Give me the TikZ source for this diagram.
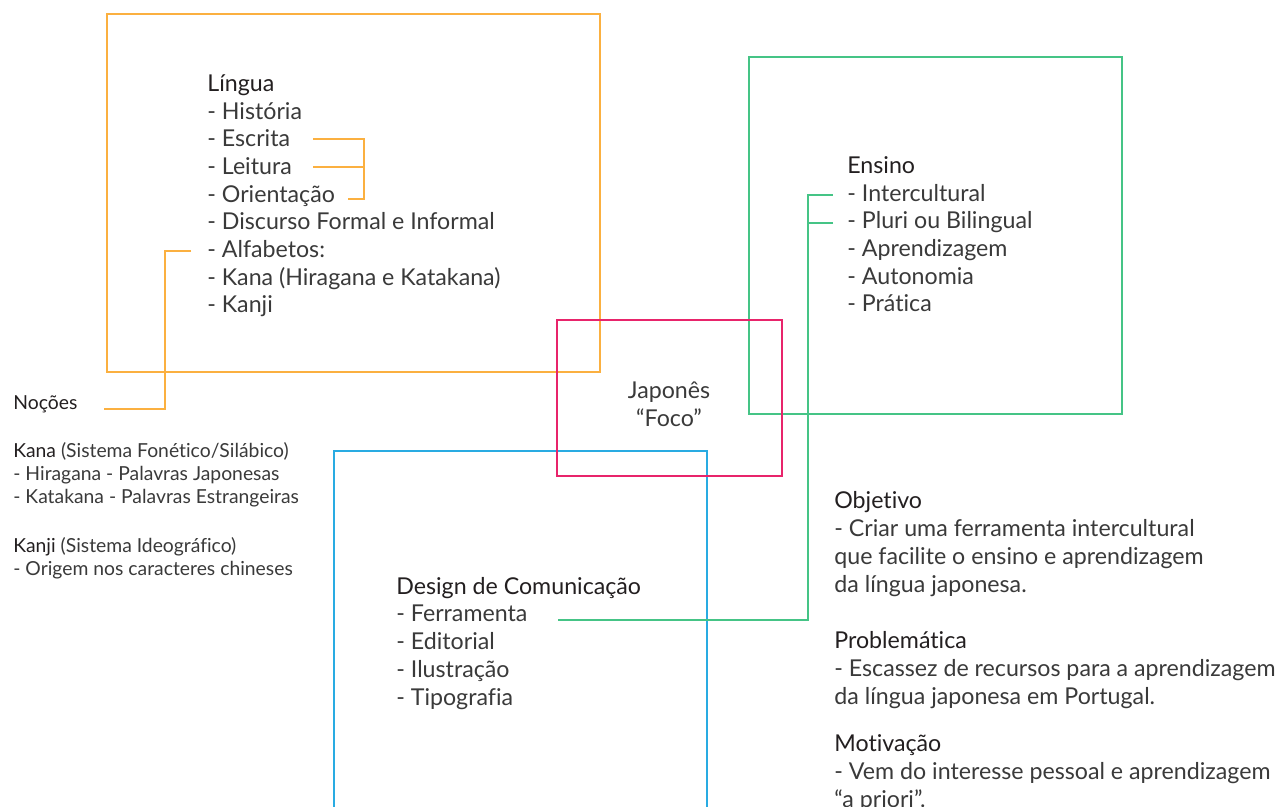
\documentclass[tikz,border=0pt]{standalone}
\usepackage{fontspec}
\setmainfont{Lato}[Ligatures=NoCommon]
\usetikzlibrary{positioning}

\definecolor{lorange}{HTML}{FBB040}
\definecolor{lgreen}{HTML}{45C486}
\definecolor{lpink}{HTML}{E8246B}
\definecolor{lblue}{HTML}{29ABE2}
\definecolor{headtext}{HTML}{231F20}
\definecolor{itemtext}{HTML}{3A3A3A}

\tikzset{
  frame/.style={line width=0.8pt},
  link/.style={line width=0.8pt},
  item/.style={anchor=base west, align=left, inner sep=0pt, text=itemtext,
    font=\fontsize{13.2}{15.75}\selectfont},
  smallitem/.style={item, font=\fontsize{11}{13}\selectfont}
}
\newcommand{\hd}[1]{\textcolor{headtext}{#1}}

\begin{document}
\begin{tikzpicture}[x=0.02cm,y=-0.02cm]
	\fill[white] (0,0) rectangle (1284,807);
	\useasboundingbox (0,0) rectangle (1284,807);

	% frames (multi-line nodes sit on the baseline of their last line)
	\draw[frame,lorange] (107,14) rectangle (600,372);
	\draw[frame,lgreen] (749,57) rectangle (1122,414);
	\draw[frame,lblue] (334,840) -- (334,451) -- (707,451) -- (707,840);
	\draw[frame,lpink] (557,320) rectangle (782,476);

	% texts
	\node[item] (lingua) at (207,313) {\hd{Língua}\\- História\\- Escrita\\- Leitura\\- Orientação\\- Discurso Formal e Informal\\- Alfabetos:\\- Kana (Hiragana e Katakana)\\- Kanji};
	\node[item] (ensino) at (847,312) {\hd{Ensino}\\- Intercultural\\- Pluri ou Bilingual\\- Aprendizagem\\- Autonomia\\- Prática};
	\node[item] (design) at (396,705) {\hd{Design de Comunicação}\\- Ferramenta\\- Editorial\\- Ilustração\\- Tipografia};
	\node[item, anchor=base, align=center] (japones) at (669,426) {Japonês\\“Foco”};
	\node[smallitem] (nocoes) at (13,409) {\hd{Noções}};
	\node[smallitem] (kana) at (13,575) {\hd{Kana} (Sistema Fonético/Silábico)\\- Hiragana - Palavras Japonesas\\- Katakana - Palavras Estrangeiras\\[14.8pt]\hd{Kanji} (Sistema Ideográfico)\\- Origem nos caracteres chineses};
	\node[item] (objetivo) at (834,592) {\hd{Objetivo}\\- Criar uma ferramenta intercultural\\que facilite o ensino e aprendizagem\\da língua japonesa.};
	\node[item] (problematica) at (834,704) {\hd{Problemática}\\- Escassez de recursos para a aprendizagem\\da língua japonesa em Portugal.};
	\node[item] (motivacao) at (834,807) {\hd{Motivação}\\- Vem do interesse pessoal e aprendizagem\\“a priori”.};

	% connector ends
	\coordinate (escrita) at (313,139);
	\coordinate (leitura) at (313,167);
	\coordinate (orientacao) at (348,199);
	\coordinate (escritajoint) at (364,139);
	\coordinate (alfabetos) at (191,251);
	\coordinate (alfabetosjoint) at (165,251);
	\coordinate (nocoesend) at (104,409);
	\coordinate (intercultural) at (833,195);
	\coordinate (pluri) at (833,223);
	\coordinate (ensinojoint) at (808,195);
	\coordinate (ferramenta) at (558,620);

	% connectors
	\draw[link,lorange] (escrita) -- (escritajoint) |- (orientacao);
	\draw[link,lorange] (leitura) -- (leitura -| escritajoint);
	\draw[link,lorange] (alfabetos) -- (alfabetosjoint) |- (nocoesend);
	\draw[link,lgreen] (ferramenta) -| (ensinojoint) -- (intercultural);
	\draw[link,lgreen] (pluri) -- (pluri -| ensinojoint);
\end{tikzpicture}
\end{document}
